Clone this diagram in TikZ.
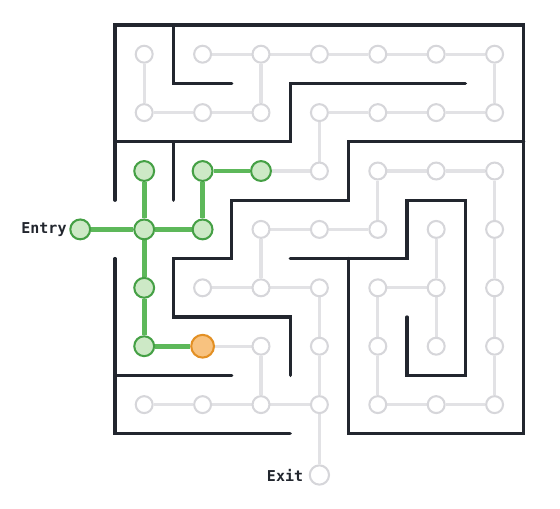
\documentclass[tikz,border=0pt]{standalone}
\usepackage{fontspec}
\setmonofont{DejaVu Sans Mono}
\usetikzlibrary{positioning,backgrounds}

\definecolor{wallc}{HTML}{22262E}
\definecolor{cellline}{HTML}{D6D6DA}
\definecolor{linkc}{HTML}{E2E2E5}
\definecolor{pathline}{HTML}{45A045}
\definecolor{pathfill}{HTML}{CDE9C6}
\definecolor{pathedge}{HTML}{5DB85A}
\definecolor{headline}{HTML}{E39024}
\definecolor{headfill}{HTML}{F8C27F}

\begin{document}
\begin{tikzpicture}
        \tikzset{cell/.style={circle,draw=cellline,fill=white,line width=1pt,
                minimum size=.29cm,inner sep=0pt},
            visited/.style={cell,draw=pathline,fill=pathfill,minimum size=.34cm},
            current/.style={cell,draw=headline,fill=headfill,minimum size=.39cm},
            link/.style={draw=linkc,line width=1.5pt},
            pathlink/.style={draw=pathedge,line width=2.3pt},
            wall/.style={draw=wallc,line width=1.6pt,line cap=round},
            tag/.style={font=\ttfamily\bfseries\fontsize{7.3}{8}\selectfont,
                text=wallc,inner sep=0pt},
            c02/.style=visited, c12/.style=visited, c22/.style=visited,
            c03/.style=visited, c13/.style=visited,
            c04/.style=visited, c05/.style=visited, c15/.style=current}
        \useasboundingbox (-1.969,.428) rectangle (7.62,-8.271);

        % walls
        \draw[wall] (0,-3) -- (0,0) -- (7,0) -- (7,-7) -- (4,-7) -- (4,-4);
        \draw[wall] (0,-4) -- (0,-7) -- (3,-7);
        \draw[wall] (1,0) -- (1,-1) -- (2,-1);
        \draw[wall] (0,-2) -- (3,-2) -- (3,-1) -- (6,-1);
        \draw[wall] (1,-2) -- (1,-3);
        \draw[wall] (7,-2) -- (4,-2) -- (4,-3) -- (2,-3) -- (2,-4) -- (1,-4)
            -- (1,-5) -- (3,-5) -- (3,-6);
        \draw[wall] (0,-6) -- (2,-6);
        \draw[wall] (3,-4) -- (5,-4) -- (5,-3) -- (6,-3) -- (6,-6) -- (5,-6) -- (5,-5);

        % cells
        \foreach \x in {0,...,6}
            \foreach \y in {0,...,6}
                \node[cell,c\x\y/.try] (n\x\y) at (\x+.5,-\y-.5) {};
        \node[visited] (entry) [left=.72cm of n03] {};
        \node[cell,minimum size=.33cm] (exit) [below=.86cm of n36] {};
        \node[tag] [left=.04cm of entry] {Entry};
        \node[tag] [left=.09cm of exit] {Exit};

        \begin{scope}[on background layer]
            \foreach \a/\b in {10/20,20/30,30/40,40/50,50/60,00/01,20/21,60/61,
                    01/11,11/21,31/41,41/51,51/61,31/32,22/32,42/52,52/62,
                    42/43,62/63,23/33,33/43,23/24,53/54,63/64,14/24,24/34,44/54,
                    34/35,44/45,54/55,64/65,15/25,25/26,35/36,45/46,65/66,
                    06/16,16/26,26/36,46/56,56/66}
                \draw[link] (n\a) -- (n\b);
            \draw[link] (n36) -- (exit);
            \foreach \a/\b in {02/03,03/13,12/13,12/22,03/04,04/05,05/15}
                \draw[pathlink] (n\a) -- (n\b);
            \draw[pathlink] (entry) -- (n03);
        \end{scope}
\end{tikzpicture}
\end{document}
